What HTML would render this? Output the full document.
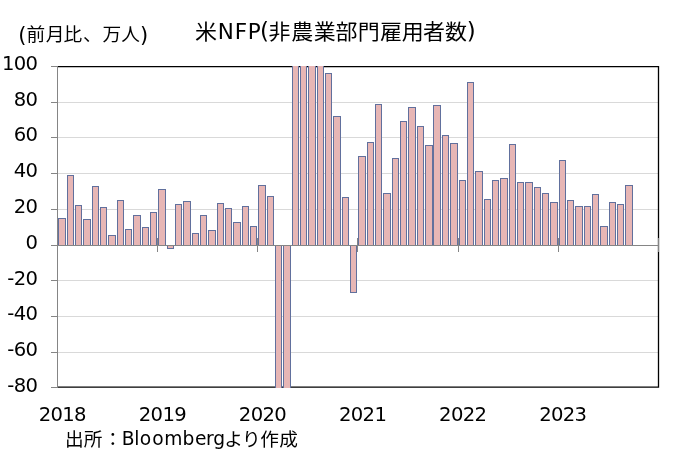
<!DOCTYPE html>
<html lang="ja"><head><meta charset="utf-8"><title>米NFP(非農業部門雇用者数)</title>
<style>html,body{margin:0;padding:0;background:#fff}body{width:685px;height:458px;overflow:hidden;position:relative}svg{position:absolute;left:0;top:0;display:block}.n{font-family:"DejaVu Sans","Liberation Sans",sans-serif;font-size:19.6px;letter-spacing:-0.65px;fill:#000}.j{font-family:"Liberation Sans","Noto Sans CJK JP",sans-serif;fill:#000}.l{font-family:"DejaVu Sans","Liberation Sans",sans-serif;fill:#000}</style></head><body>
<svg width="685" height="458" viewBox="0 0 685 458">
<rect x="0" y="0" width="685" height="458" fill="#fff"/>
<g stroke="#D9D9D9" stroke-width="1" shape-rendering="crispEdges">
<line x1="58" y1="102.5" x2="658" y2="102.5"/>
<line x1="58" y1="137.5" x2="658" y2="137.5"/>
<line x1="58" y1="173.5" x2="658" y2="173.5"/>
<line x1="58" y1="209.5" x2="658" y2="209.5"/>
<line x1="58" y1="280.5" x2="658" y2="280.5"/>
<line x1="58" y1="316.5" x2="658" y2="316.5"/>
<line x1="58" y1="352.5" x2="658" y2="352.5"/>
</g>
<g stroke="#000" stroke-width="1.3" fill="none">
<path d="M57.5 66.6H658.5V387.2H57.5"/>
</g>
<g fill="#E7B6B5" stroke="#61709D" stroke-width="1" shape-rendering="crispEdges">
<rect x="58.5" y="218.5" width="7" height="27.0"/>
<rect x="67.5" y="175.5" width="6" height="70.0"/>
<rect x="75.5" y="205.5" width="6" height="40.0"/>
<rect x="83.5" y="219.5" width="7" height="26.0"/>
<rect x="92.5" y="186.5" width="6" height="59.0"/>
<rect x="100.5" y="207.5" width="6" height="38.0"/>
<rect x="108.5" y="235.5" width="7" height="10.0"/>
<rect x="117.5" y="200.5" width="6" height="45.0"/>
<rect x="125.5" y="229.5" width="6" height="16.0"/>
<rect x="133.5" y="215.5" width="7" height="30.0"/>
<rect x="142.5" y="227.5" width="6" height="18.0"/>
<rect x="150.5" y="212.5" width="6" height="33.0"/>
<rect x="158.5" y="189.5" width="7" height="56.0"/>
<rect x="167.5" y="245.5" width="6" height="3.0"/>
<rect x="175.5" y="204.5" width="6" height="41.0"/>
<rect x="183.5" y="201.5" width="7" height="44.0"/>
<rect x="192.5" y="233.5" width="6" height="12.0"/>
<rect x="200.5" y="215.5" width="6" height="30.0"/>
<rect x="208.5" y="230.5" width="7" height="15.0"/>
<rect x="217.5" y="203.5" width="6" height="42.0"/>
<rect x="225.5" y="208.5" width="6" height="37.0"/>
<rect x="233.5" y="222.5" width="7" height="23.0"/>
<rect x="242.5" y="206.5" width="6" height="39.0"/>
<rect x="250.5" y="226.5" width="6" height="19.0"/>
<rect x="258.5" y="185.5" width="7" height="60.0"/>
<rect x="267.5" y="196.5" width="6" height="49.0"/>
<rect x="275" y="245" width="7" height="143" stroke="none"/>
<path d="M275.5 245V388M281.5 245V388" fill="none"/>
<rect x="283" y="245" width="8" height="143" stroke="none"/>
<path d="M283.5 245V388M290.5 245V388" fill="none"/>
<rect x="292" y="65.8" width="7" height="180" stroke="none"/>
<path d="M292.5 65.8V245.5M298.5 65.8V245.5" fill="none"/>
<rect x="300" y="65.8" width="7" height="180" stroke="none"/>
<path d="M300.5 65.8V245.5M306.5 65.8V245.5" fill="none"/>
<rect x="308" y="65.8" width="8" height="180" stroke="none"/>
<path d="M308.5 65.8V245.5M315.5 65.8V245.5" fill="none"/>
<rect x="317" y="65.8" width="7" height="180" stroke="none"/>
<path d="M317.5 65.8V245.5M323.5 65.8V245.5" fill="none"/>
<rect x="325.5" y="73.5" width="6" height="172.0"/>
<rect x="333.5" y="116.5" width="7" height="129.0"/>
<rect x="342.5" y="197.5" width="6" height="48.0"/>
<rect x="350.5" y="245.5" width="6" height="47.0"/>
<rect x="358.5" y="156.5" width="7" height="89.0"/>
<rect x="367.5" y="142.5" width="6" height="103.0"/>
<rect x="375.5" y="104.5" width="6" height="141.0"/>
<rect x="383.5" y="193.5" width="7" height="52.0"/>
<rect x="392.5" y="158.5" width="6" height="87.0"/>
<rect x="400.5" y="121.5" width="6" height="124.0"/>
<rect x="408.5" y="107.5" width="7" height="138.0"/>
<rect x="417.5" y="126.5" width="6" height="119.0"/>
<rect x="425.5" y="145.5" width="7" height="100.0"/>
<rect x="433.5" y="105.5" width="7" height="140.0"/>
<rect x="442.5" y="135.5" width="6" height="110.0"/>
<rect x="450.5" y="143.5" width="7" height="102.0"/>
<rect x="459.5" y="180.5" width="6" height="65.0"/>
<rect x="467.5" y="82.5" width="6" height="163.0"/>
<rect x="475.5" y="171.5" width="7" height="74.0"/>
<rect x="484.5" y="199.5" width="6" height="46.0"/>
<rect x="492.5" y="180.5" width="6" height="65.0"/>
<rect x="500.5" y="178.5" width="7" height="67.0"/>
<rect x="509.5" y="144.5" width="6" height="101.0"/>
<rect x="517.5" y="182.5" width="6" height="63.0"/>
<rect x="525.5" y="182.5" width="7" height="63.0"/>
<rect x="534.5" y="187.5" width="6" height="58.0"/>
<rect x="542.5" y="193.5" width="6" height="52.0"/>
<rect x="550.5" y="202.5" width="7" height="43.0"/>
<rect x="559.5" y="160.5" width="6" height="85.0"/>
<rect x="567.5" y="200.5" width="6" height="45.0"/>
<rect x="575.5" y="206.5" width="7" height="39.0"/>
<rect x="584.5" y="206.5" width="6" height="39.0"/>
<rect x="592.5" y="194.5" width="6" height="51.0"/>
<rect x="600.5" y="226.5" width="7" height="19.0"/>
<rect x="609.5" y="202.5" width="6" height="43.0"/>
<rect x="617.5" y="204.5" width="6" height="41.0"/>
<rect x="625.5" y="185.5" width="7" height="60.0"/>
</g>
<g stroke="#858585" stroke-width="1" shape-rendering="crispEdges">
<line x1="57.5" y1="66" x2="57.5" y2="388"/>
<line x1="57" y1="245.5" x2="659" y2="245.5"/>
<line x1="51" y1="66.5" x2="58" y2="66.5"/>
<line x1="51" y1="102.5" x2="58" y2="102.5"/>
<line x1="51" y1="137.5" x2="58" y2="137.5"/>
<line x1="51" y1="173.5" x2="58" y2="173.5"/>
<line x1="51" y1="209.5" x2="58" y2="209.5"/>
<line x1="51" y1="245.5" x2="58" y2="245.5"/>
<line x1="51" y1="280.5" x2="58" y2="280.5"/>
<line x1="51" y1="316.5" x2="58" y2="316.5"/>
<line x1="51" y1="352.5" x2="58" y2="352.5"/>
<line x1="51" y1="387.5" x2="58" y2="387.5"/>
<line x1="157.5" y1="238" x2="157.5" y2="252"/>
<line x1="257.5" y1="238" x2="257.5" y2="252"/>
<line x1="357.5" y1="238" x2="357.5" y2="252"/>
<line x1="458.5" y1="238" x2="458.5" y2="252"/>
<line x1="558.5" y1="238" x2="558.5" y2="252"/>
<line x1="658.5" y1="238" x2="658.5" y2="252"/>
</g>
<text class="n" x="37.4" y="69.7" text-anchor="end">100</text>
<text class="n" x="37.4" y="105.5" text-anchor="end">80</text>
<text class="n" x="37.4" y="141.3" text-anchor="end">60</text>
<text class="n" x="37.4" y="177.1" text-anchor="end">40</text>
<text class="n" x="37.4" y="212.9" text-anchor="end">20</text>
<text class="n" x="37.4" y="248.7" text-anchor="end">0</text>
<text class="n" x="37.4" y="284.5" text-anchor="end">-20</text>
<text class="n" x="37.4" y="320.3" text-anchor="end">-40</text>
<text class="n" x="37.4" y="356.1" text-anchor="end">-60</text>
<text class="n" x="37.4" y="391.9" text-anchor="end">-80</text>
<text class="n" x="62.3" y="420.9" text-anchor="middle">2018</text>
<text class="n" x="162.4" y="420.9" text-anchor="middle">2019</text>
<text class="n" x="262.5" y="420.9" text-anchor="middle">2020</text>
<text class="n" x="362.6" y="420.9" text-anchor="middle">2021</text>
<text class="n" x="462.7" y="420.9" text-anchor="middle">2022</text>
<text class="n" x="562.8" y="420.9" text-anchor="middle">2023</text>
<text class="l" x="18.27" y="41.8" font-size="21">(</text>
<text class="j" transform="translate(0 40.7) scale(1 0.96)" x="26.39 45.80 63.61 83.11 102.49 121.36" y="0" font-size="18.67">前月比、万人</text>
<text class="l" x="139.89" y="41.8" font-size="21">)</text>
<text class="j" transform="translate(0 38.5) scale(1 0.95)" x="195.04" y="0" font-size="22">米</text>
<text class="l" x="217.84 234.72 247.66" y="38.9" font-size="21.5">NFP</text>
<text class="l" x="259.89" y="38.9" font-size="23">(</text>
<text class="j" transform="translate(0 38.5) scale(1 0.95)" x="268.55 291.35 313.80 335.55 357.79 380.01 401.72 423.10 445.05" y="0" font-size="22">非農業部門雇用者数</text>
<text class="l" x="466.81" y="38.9" font-size="23">)</text>
<text class="j" transform="translate(0 445.5) scale(1 1)" x="64.93 83.70 103.54" y="0" font-size="18.67">出所：</text>
<text class="l" x="121.66 134.34 139.86 152.36 164.31 182.54 195.00 205.91 213.14" y="445.4" font-size="18.67">Bloomberg</text>
<text class="j" transform="translate(0 445.5) scale(1 1)" x="224.22 242.02 260.32 279.24" y="0" font-size="18.67">より作成</text>
</svg></body></html>
